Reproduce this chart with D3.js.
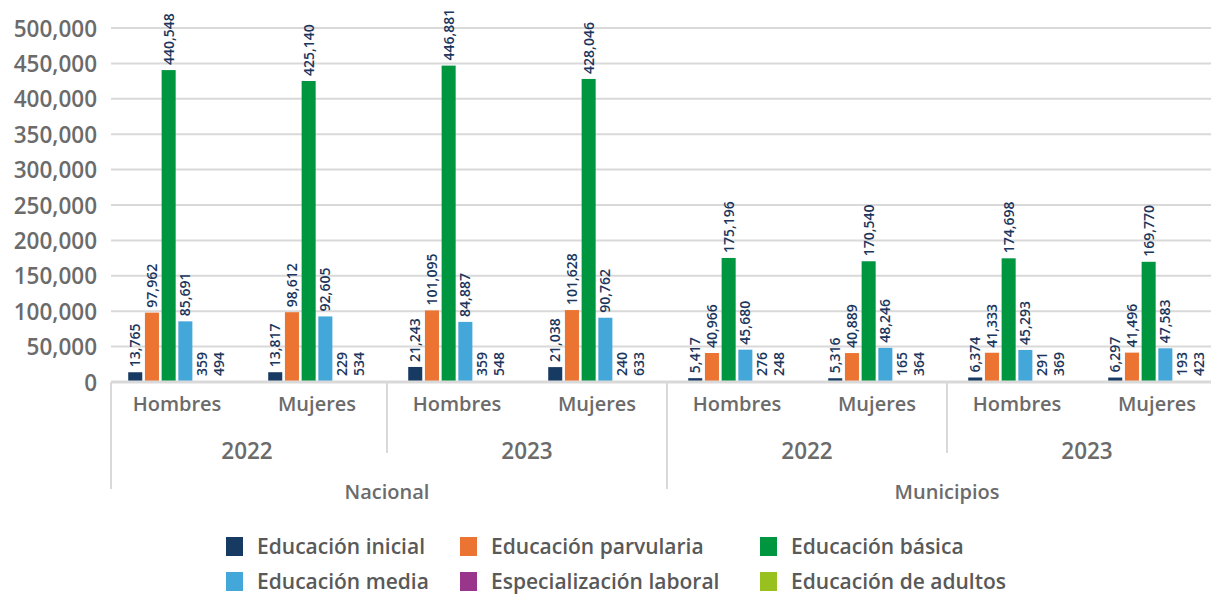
<!DOCTYPE html>
<html>
<head>
<meta charset="utf-8">
<script src="https://cdn.jsdelivr.net/npm/d3@7"></script>
<style>
  body { margin: 0; background: #fff; }
  svg { display: block; font-family: "Open Sans", sans-serif; }
</style>
</head>
<body>
<svg width="1211" height="594"></svg>
<script>
// categories (3 levels)
const regions = ["Nacional", "Municipios"];
const years = ["2022", "2023"];
const sexes = ["Hombres", "Mujeres"];

const series = ["Educación inicial", "Educación parvularia", "Educación básica",
                "Educación media", "Especialización laboral", "Educación de adultos"];
const colors = ["#173a63", "#ec7432", "#00963f", "#43a7da", "#9a358c", "#98c11f"];

// values per group, in series order
const nacional2022H = [13765, 97962, 440548, 85691, 359, 494];
const nacional2022M = [13817, 98612, 425140, 92605, 229, 534];
const nacional2023H = [21243, 101095, 446881, 84887, 359, 548];
const nacional2023M = [21038, 101628, 428046, 90762, 240, 633];
const municipios2022H = [5417, 40966, 175196, 45680, 276, 248];
const municipios2022M = [5316, 40889, 170540, 48246, 165, 364];
const municipios2023H = [6374, 41333, 174698, 45293, 291, 369];
const municipios2023M = [6297, 41496, 169770, 47583, 193, 423];

const yTicks = [0, 50000, 100000, 150000, 200000, 250000, 300000, 350000, 400000, 450000, 500000];

const groupValues = [nacional2022H, nacional2022M, nacional2023H, nacional2023M,
                     municipios2022H, municipios2022M, municipios2023H, municipios2023M];

const groups = [];
regions.forEach(r => years.forEach(y => sexes.forEach(s => groups.push({ region: r, year: y, sex: s }))));
groups.forEach((g, i) => { g.key = i; g.values = groupValues[i]; });

const svg = d3.select("svg");
const plotLeft = 107, plotRight = 1227, plotTop = 28, plotBottom = 382;
const gray = "#d9d9d9";
const textGray = "#6b6b6b";

const x0 = d3.scaleBand().domain(groups.map(g => g.key)).range([plotLeft, plotRight]);
const x1 = d3.scaleBand().domain(series).range([0, x0.bandwidth()]).paddingInner(0.16).paddingOuter(1.27);
const y = d3.scaleLinear().domain([0, 500000]).range([plotBottom, plotTop]);

// gridlines
svg.append("g")
    .selectAll("line")
    .data(yTicks.slice(1))
    .join("line")
    .attr("x1", 111).attr("x2", 1211)
    .attr("y1", d => y(d)).attr("y2", d => y(d))
    .attr("stroke", gray).attr("stroke-width", 2);

// y axis
const yAxis = d3.axisLeft(y).tickValues(yTicks).tickFormat(d3.format(",")).tickSize(0).tickPadding(0);
svg.append("g")
    .attr("transform", "translate(97,0)")
    .call(yAxis)
    .call(g => g.select(".domain").remove())
    .selectAll("text")
    .attr("font-family", "Open Sans, sans-serif")
    .attr("font-size", 22.5)
    .attr("font-weight", 600)
    .attr("fill", textGray)
    .attr("dy", "0.36em");

// bars
const gBars = svg.append("g")
    .selectAll("g")
    .data(groups)
    .join("g")
    .attr("transform", d => `translate(${x0(d.key)},0)`);

gBars.selectAll("rect")
    .data(d => d.values.map((v, i) => ({ s: series[i], v, c: colors[i] })))
    .join("rect")
    .attr("x", d => x1(d.s))
    .attr("width", x1.bandwidth())
    .attr("y", d => y(d.v))
    .attr("height", d => plotBottom - y(d.v))
    .attr("fill", d => d.c);

gBars.selectAll("text")
    .data(d => d.values.map((v, i) => ({ s: series[i], v })))
    .join("text")
    .attr("transform", d => `translate(${x1(d.s) + x1.bandwidth() / 2},${Math.min(y(d.v), plotBottom - 1) - 5}) rotate(-90)`)
    .attr("dy", "0.36em")
    .attr("font-size", 14)
    .attr("font-weight", 600)
    .attr("fill", "#1b365d")
    .text(d => d3.format(",")(d.v));

// baseline
svg.append("line")
    .attr("x1", 111).attr("x2", 1211)
    .attr("y1", plotBottom).attr("y2", plotBottom)
    .attr("stroke", gray).attr("stroke-width", 3);

// category axis: sex labels
svg.append("g")
    .selectAll("text")
    .data(groups)
    .join("text")
    .attr("x", d => x0(d.key) + x0.bandwidth() / 2)
    .attr("y", 411)
    .attr("text-anchor", "middle")
    .attr("font-size", 20)
    .attr("font-weight", 600)
    .attr("fill", textGray)
    .text(d => d.sex);

// year labels and separators
const yearGroups = [];
regions.forEach(r => years.forEach(yr => yearGroups.push({ region: r, year: yr })));
yearGroups.forEach((d, i) => { d.x = x0(i * 2); d.w = x0.bandwidth() * 2; });

svg.append("g")
    .selectAll("text")
    .data(yearGroups)
    .join("text")
    .attr("x", d => d.x + d.w / 2)
    .attr("y", 459)
    .attr("text-anchor", "middle")
    .attr("font-size", 22.5)
    .attr("font-weight", 600)
    .attr("fill", textGray)
    .text(d => d.year);

svg.append("g")
    .selectAll("line")
    .data(yearGroups.filter((d, i) => i % 2 === 1))
    .join("line")
    .attr("x1", d => d.x).attr("x2", d => d.x)
    .attr("y1", plotBottom).attr("y2", 453)
    .attr("stroke", gray).attr("stroke-width", 2);

// region labels and separators
const regionGroups = regions.map((r, i) => ({ region: r, x: x0(i * 4), w: x0.bandwidth() * 4 }));

svg.append("g")
    .selectAll("text")
    .data(regionGroups)
    .join("text")
    .attr("x", d => d.x + d.w / 2)
    .attr("y", 499)
    .attr("text-anchor", "middle")
    .attr("font-size", 20)
    .attr("font-weight", 600)
    .attr("fill", textGray)
    .text(d => d.region);

svg.append("g")
    .selectAll("line")
    .data([111, regionGroups[1].x])
    .join("line")
    .attr("x1", d => d).attr("x2", d => d)
    .attr("y1", plotBottom).attr("y2", 489)
    .attr("stroke", gray).attr("stroke-width", 2);

// legend
const legendCols = [226, 460, 760];
const legend = svg.append("g")
    .selectAll("g")
    .data(series)
    .join("g")
    .attr("transform", (d, i) => `translate(${legendCols[i % 3]},${i < 3 ? 547 : 582})`);

legend.append("rect")
    .attr("x", 0).attr("y", -10)
    .attr("width", 17).attr("height", 19)
    .attr("fill", (d, i) => colors[i]);

legend.append("text")
    .attr("x", 31)
    .attr("dy", "0.33em")
    .attr("font-size", 21)
    .attr("font-weight", 600)
    .attr("fill", "#595959")
    .text(d => d);
</script>
</body>
</html>
